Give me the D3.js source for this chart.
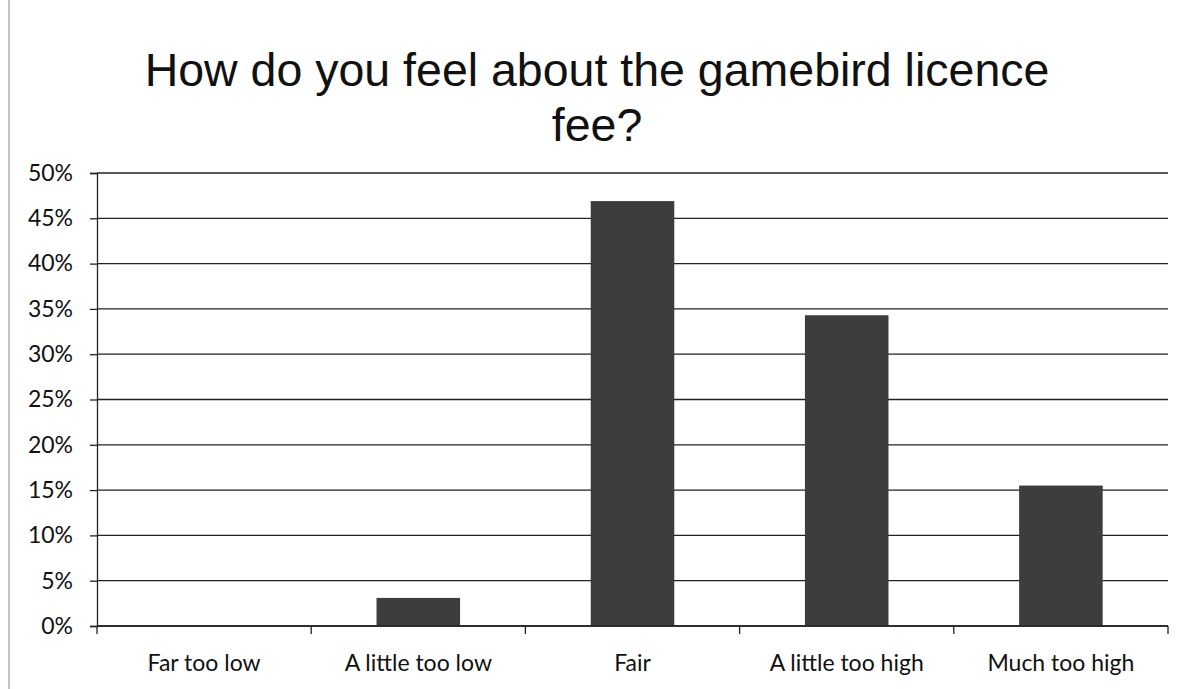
<!DOCTYPE html>
<html>
<head>
<meta charset="utf-8">
<script src="https://cdn.jsdelivr.net/npm/d3@7"></script>
<style>
  body { margin: 0; background: #fff; }
  .tick text { font-family: Lato, "Open Sans", sans-serif; fill: #111; }
</style>
</head>
<body>
<div id="chart"></div>
<script>
var svgWidth = 1187;
var svgHeight = 689;

// chart data
var categories = ["Far too low", "A little too low", "Fair", "A little too high", "Much too high"];
var shares = [0, 0.031, 0.469, 0.343, 0.155];
var yTicks = [0, 0.05, 0.1, 0.15, 0.2, 0.25, 0.3, 0.35, 0.4, 0.45, 0.5];
var titleLines = ["How do you feel about the gamebird licence", "fee?"];

var margin = { top: 173, right: 19, bottom: 63, left: 97 };
var width = svgWidth - margin.left - margin.right;
var height = svgHeight - margin.top - margin.bottom;

var svg = d3.select("#chart")
  .append("svg")
  .attr("width", svgWidth)
  .attr("height", svgHeight);

// scanned page edge on the left
svg.append("line")
  .attr("x1", 9).attr("x2", 9)
  .attr("y1", 0).attr("y2", svgHeight)
  .attr("stroke", "#888")
  .attr("stroke-width", 1);

// title
svg.append("g")
  .selectAll("text")
  .data(titleLines)
  .enter()
  .append("text")
  .attr("x", 597)
  .attr("y", (d, i) => 86 + i * 55)
  .attr("text-anchor", "middle")
  .style("font-family", "'Liberation Sans', Arial, sans-serif")
  .style("font-size", "46.5px")
  .style("fill", "#111")
  .text(d => d);

var chartGroup = svg.append("g")
  .attr("transform", `translate(${margin.left}, ${margin.top})`);

var xBand = d3.scaleBand()
  .domain(categories)
  .range([0, width])
  .paddingInner(0.61)
  .paddingOuter(0.305);

var yLinearScale = d3.scaleLinear()
  .domain([0, 0.5])
  .range([height, 0]);

// gridlines
chartGroup.append("g")
  .selectAll("line")
  .data(yTicks)
  .enter()
  .append("line")
  .attr("x1", 0)
  .attr("x2", width)
  .attr("y1", d => yLinearScale(d))
  .attr("y2", d => yLinearScale(d))
  .attr("stroke", "#222")
  .attr("stroke-width", 1.3);

// bars
chartGroup.append("g")
  .selectAll("rect")
  .data(shares)
  .enter()
  .append("rect")
  .attr("x", (d, i) => xBand(categories[i]))
  .attr("y", d => yLinearScale(d))
  .attr("width", xBand.bandwidth())
  .attr("height", d => height - yLinearScale(d))
  .attr("fill", "#3d3d3d");

// y axis
var leftAxis = d3.axisLeft(yLinearScale)
  .tickValues(yTicks)
  .tickFormat(d3.format(".0%"))
  .tickSize(7)
  .tickPadding(17);

var yAxis = chartGroup.append("g").call(leftAxis);
yAxis.select(".domain").attr("stroke", "#222").attr("stroke-width", 1.3);
yAxis.selectAll(".tick line").attr("stroke", "#222").attr("stroke-width", 1.3);
yAxis.selectAll(".tick text").style("font-size", "23px");

// x axis: ticks at band boundaries
var xAxis = chartGroup.append("g")
  .attr("transform", `translate(0, ${height})`);

xAxis.append("line")
  .attr("x1", 0).attr("x2", width)
  .attr("y1", 0).attr("y2", 0)
  .attr("stroke", "#222")
  .attr("stroke-width", 1.3);

var step = xBand.step();
xAxis.selectAll("line.xtick")
  .data(d3.range(categories.length + 1))
  .enter()
  .append("line")
  .attr("class", "xtick")
  .attr("x1", i => i * step)
  .attr("x2", i => i * step)
  .attr("y1", 0)
  .attr("y2", 8)
  .attr("stroke", "#222")
  .attr("stroke-width", 1.3);

xAxis.selectAll("text")
  .data(categories)
  .enter()
  .append("text")
  .attr("x", d => xBand(d) + xBand.bandwidth() / 2)
  .attr("y", 45)
  .attr("text-anchor", "middle")
  .style("font-family", "Lato, 'Open Sans', sans-serif")
  .style("font-size", "23px")
  .style("fill", "#111")
  .text(d => d);
</script>
</body>
</html>
